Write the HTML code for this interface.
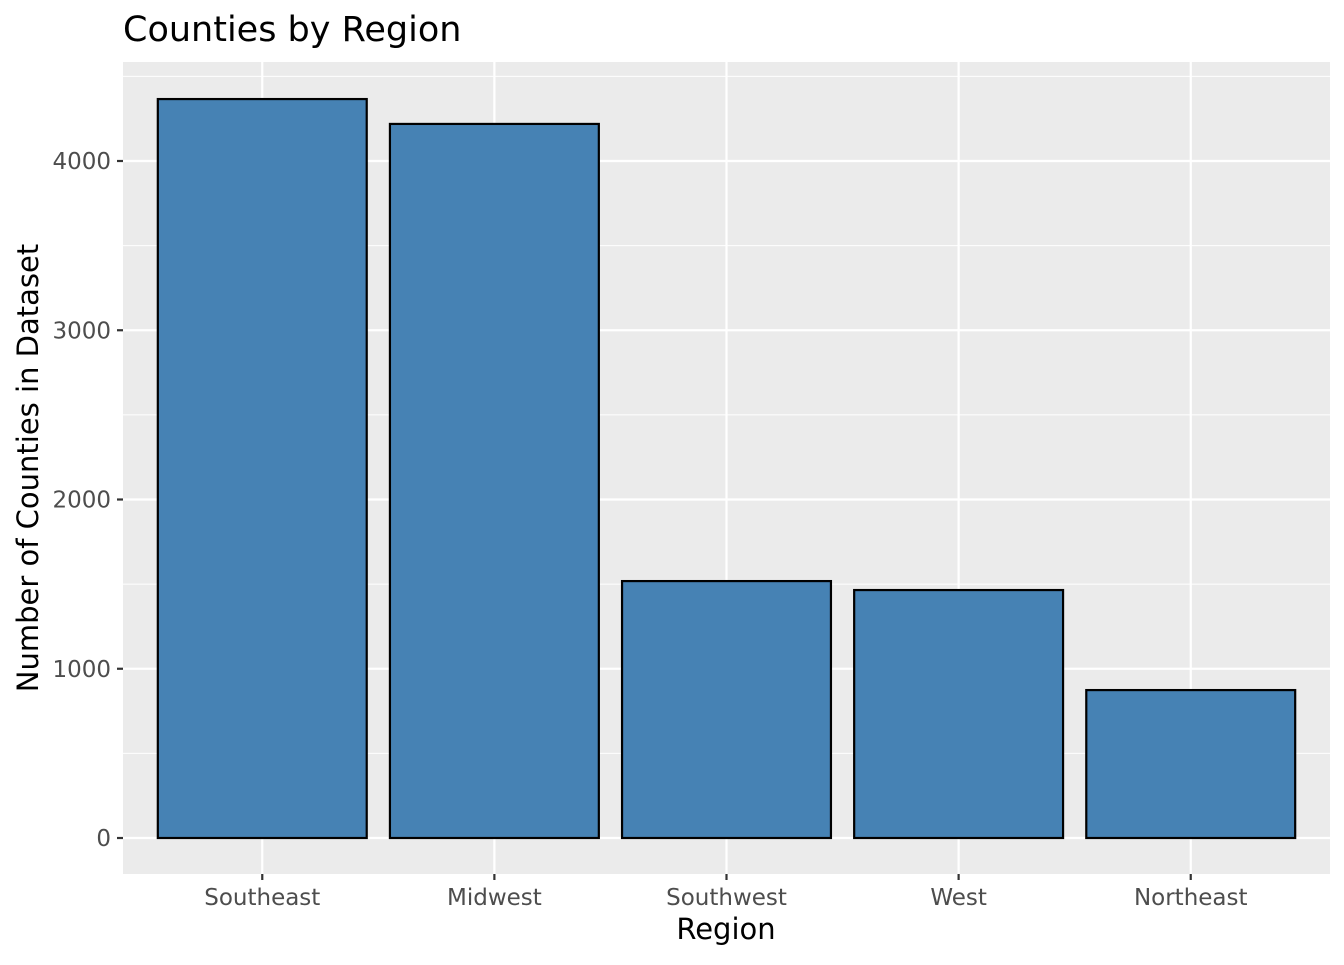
<!DOCTYPE html>
<html><head><meta charset="utf-8"><style>
html,body{margin:0;padding:0;background:#fff;}
svg text{font-family:"DejaVu Sans","Liberation Sans",sans-serif;}
</style></head><body>
<svg id="chart" width="1344" height="960" xmlns="http://www.w3.org/2000/svg">
<rect width="1344" height="960" fill="#fff"/>
<text x="123" y="41" font-size="35" fill="#000">Counties by Region</text>
<rect x="123" y="62" width="1207" height="812" fill="#ebebeb"/>
<g id="grid"></g>
<g id="bars"></g>
<g id="axes"></g>
<text x="726" y="939" font-size="29" text-anchor="middle" fill="#000">Region</text>
<text transform="translate(38,468) rotate(-90)" font-size="29" text-anchor="middle" fill="#000">Number of Counties in Dataset</text>
</svg>
<script>
const categories = ["Southeast","Midwest","Southwest","West","Northeast"];
const counts = [4366, 4219, 1518, 1465, 874];
const yTicks = [0, 1000, 2000, 3000, 4000];
const yMinor = [500, 1500, 2500, 3500, 4500];
const NS = "http://www.w3.org/2000/svg";
const px0 = 123, px1 = 1330, py0 = 62, py1 = 874;
const y = v => 838 - v * 0.16925;
const step = (px1 - px0) / (categories.length + 0.2);
const x = i => px0 + step * (0.6 + i);
const bw = step * 0.9;
function mk(tag, attrs, parent){const e=document.createElementNS(NS,tag);for(const k in attrs)e.setAttribute(k,attrs[k]);parent.appendChild(e);return e;}
const grid=document.getElementById('grid'), bars=document.getElementById('bars'), axes=document.getElementById('axes');
yMinor.forEach(v=>{const l=mk('line',{x1:px0,x2:px1,y1:y(v),y2:y(v),stroke:'#fff','stroke-width':1.1},grid);

});
yTicks.forEach(v=>{const l=mk('line',{x1:px0,x2:px1,y1:y(v),y2:y(v),stroke:'#fff','stroke-width':2.2},grid);


const t=mk('line',{x1:px0-6,x2:px0,y1:y(v),y2:y(v),stroke:'#333','stroke-width':2.2},axes);


const tx=mk('text',{x:px0-12,y:y(v)+8,'font-size':23,'text-anchor':'end',fill:'#4d4d4d'},axes);
tx.textContent=v;

});
categories.forEach((c,i)=>{const l=mk('line',{x1:x(i),x2:x(i),y1:py0,y2:py1,stroke:'#fff','stroke-width':2.2},grid);


const r=mk('rect',{x:x(i)-bw/2,y:y(counts[i]),width:bw,height:y(0)-y(counts[i]),fill:'#4682b4',stroke:'#000','stroke-width':2.2},bars);


const t=mk('line',{x1:x(i),x2:x(i),y1:py1,y2:py1+6,stroke:'#333','stroke-width':2.2},axes);


const tx=mk('text',{x:x(i),y:905,'font-size':23,'text-anchor':'middle',fill:'#4d4d4d'},axes);
tx.textContent=c;

});
</script>
</body></html>
